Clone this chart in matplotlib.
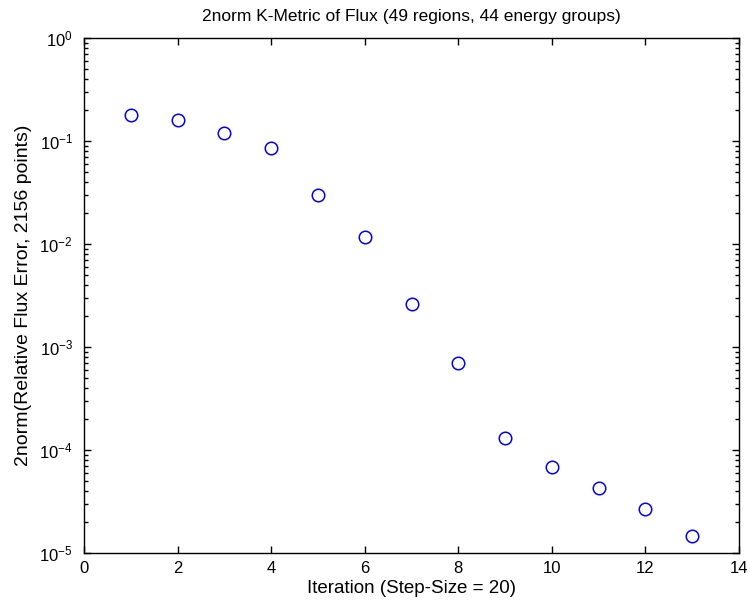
import matplotlib
matplotlib.use("Agg")
import matplotlib.pyplot as plt
from matplotlib.ticker import LogLocator, MultipleLocator

plt.rcParams['font.family'] = ['Liberation Sans', 'DejaVu Sans']
plt.rcParams['mathtext.fontset'] = 'custom'
plt.rcParams['mathtext.rm'] = 'Liberation Sans'
plt.rcParams['mathtext.default'] = 'regular'

iterations = [1, 2, 3, 4, 5, 6, 7, 8, 9, 10, 11, 12, 13]
flux_err = [0.18, 0.16, 0.12, 0.0855, 0.030, 0.0117, 0.0026, 0.0007,
            1.31e-4, 6.8e-5, 4.25e-5, 2.65e-5, 1.45e-5]

fig = plt.figure(figsize=(7.48, 6.11), dpi=100)
ax = fig.add_axes([84 / 748, 1 - 553 / 611, (739 - 84) / 748, (553 - 38) / 611])

ax.semilogy(iterations, flux_err, 'o', color='blue', markerfacecolor='none',
            markersize=9, markeredgewidth=1.1)

ax.set_xlim(0, 14)
ax.set_ylim(1e-5, 1)
ax.xaxis.set_major_locator(MultipleLocator(2))
ax.yaxis.set_major_locator(LogLocator(base=10, numticks=10))
ax.yaxis.set_minor_locator(LogLocator(base=10, subs=range(2, 10), numticks=10))

ax.tick_params(which='both', direction='in', top=True, right=True, labelsize=12)
ax.tick_params(which='major', length=5, width=1)
ax.tick_params(which='minor', length=3, width=1)
ax.tick_params(axis='x', pad=5.5)
ax.tick_params(axis='y', pad=8)
for s in ax.spines.values():
    s.set_linewidth(1)

ax.set_title('2norm K-Metric of Flux (49 regions, 44 energy groups)', fontsize=12.5, pad=12)
ax.set_xlabel('Iteration (Step-Size = 20)', fontsize=13.5, labelpad=3)
ax.set_ylabel('2norm(Relative Flux Error, 2156 points)', fontsize=14, labelpad=5)

fig.savefig('out.png', dpi=100)
